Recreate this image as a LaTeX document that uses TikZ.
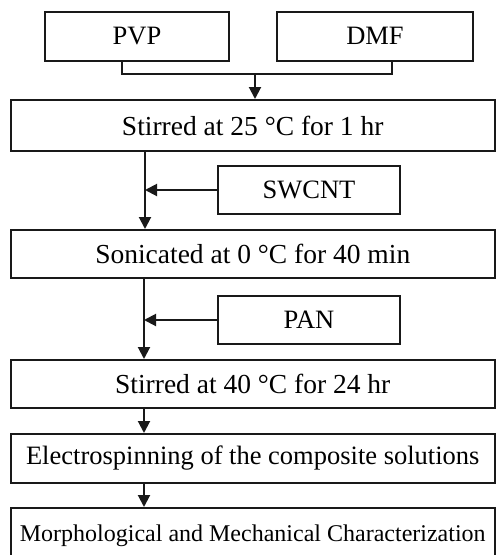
\documentclass[tikz,border=0pt]{standalone}
\usepackage{fontspec}
\setmainfont{Liberation Serif}
\usetikzlibrary{arrows.meta}
\begin{document}
\begin{tikzpicture}[x=1pt,y=-1pt,
  box/.style={draw=black!90,line width=2pt,rectangle,inner sep=0pt,font=\fontsize{26.5}{30}\selectfont},
  wide/.style={box,minimum width=483.5pt},
  bigtext/.style={font=\fontsize{27.5}{31}\selectfont},
  small/.style={box,minimum width=182pt,minimum height=48pt},
  conn/.style={draw=black!90,line width=2pt},
  arr/.style={conn,-{Triangle[width=12pt,length=12pt]}}]
\useasboundingbox (0,0) rectangle (496,555);
\clip (0,0) rectangle (496,555);
\node[box,minimum width=184pt,minimum height=49pt] (pvp) at (137,36) {PVP};
\node[box,minimum width=196pt,minimum height=49pt] (dmf) at (375,36) {DMF};
\node[wide,bigtext,minimum height=51pt] (s1) at (252.75,125.5) {Stirred at 25 °C for 1 hr};
\node[small] (swcnt) at (309,190) {SWCNT};
\node[wide,bigtext,minimum height=48pt] (s2) at (252.75,254) {Sonicated at 0 °C for 40 min};
\node[small] (pan) at (309,320) {PAN};
\node[wide,bigtext,minimum height=48pt] (s3) at (252.75,384) {Stirred at 40 °C for 24 hr};
\node[wide,minimum height=49pt] (s4) at (252.75,458.5) {Electrospinning of the composite solutions};
\node[box,minimum width=483.5pt,minimum height=70pt] (s5) at (252.75,543) {};
\node[font=\fontsize{24}{28}\selectfont,inner sep=0pt] (s5t) at (252.75,536) {Morphological and Mechanical Characterization};
\coordinate (jl) at (122,74);
\coordinate (jr) at (392,74);
\coordinate (jm) at (255,74);
\coordinate (v1) at (145,0);
\coordinate (v2) at (144,0);
\draw[conn] (pvp.south -| jl) -- (jl) -- (jr) -- (dmf.south -| jr);
\draw[arr] (jm) -- (s1.north -| jm);
\draw[arr] (s1.south -| v1) -- (s2.north -| v1);
\draw[arr] (swcnt.west) -- (swcnt.west -| v1);
\draw[arr] (s2.south -| v2) -- (s3.north -| v2);
\draw[arr] (pan.west) -- (pan.west -| v2);
\draw[arr] (s3.south -| v2) -- (s4.north -| v2);
\draw[arr] (s4.south -| v2) -- (s5.north -| v2);
\end{tikzpicture}
\end{document}
